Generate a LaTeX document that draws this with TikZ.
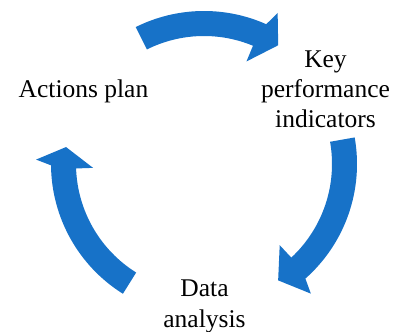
\documentclass[tikz,border=0pt]{standalone}
\usepackage{fontspec}
\setmainfont{Liberation Serif}
\usepackage{tikz}

\definecolor{arrowblue}{RGB}{23,114,200}
\tikzset{
	cyclearrow/.style={fill=arrowblue},
	steplabel/.style={align=center, inner sep=0pt, anchor=base, font=\fontsize{25.5}{30}\selectfont}
}

\begin{document}
\begin{tikzpicture}[x=1pt,y=1pt]
		\useasboundingbox (0,0) rectangle (395,331);
		\begin{scope}[shift={(204,167)}]
		\fill[cyclearrow] (116.5:153) arc[start angle=116.5, end angle=66, radius=153] -- (64:168) -- (58:140) -- (67.5:111) -- (67.5:128) arc[start angle=67.5, end angle=116.5, radius=128] -- cycle;
		\fill[cyclearrow] (10:153) arc[start angle=10, end angle=-48.5, radius=153] -- (-50.5:168) -- (-57.5:138) -- (-47:111) -- (-47:128) arc[start angle=-47, end angle=10, radius=128] -- cycle;
		\fill[cyclearrow] (238:153) arc[start angle=238, end angle=180.5, radius=153] -- (178.5:168) -- (173:139) -- (182:111) -- (182:128) arc[start angle=182, end angle=238, radius=128] -- cycle;
		\end{scope}
		\node[steplabel] (plan) at (83.5,233) {Actions plan};
		\node[steplabel] (kpi) at (325.5,203) {Key\\performance\\indicators};
		\node[steplabel] (data) at (204.5,4) {Data\\analysis};
	\end{tikzpicture}
\end{document}
